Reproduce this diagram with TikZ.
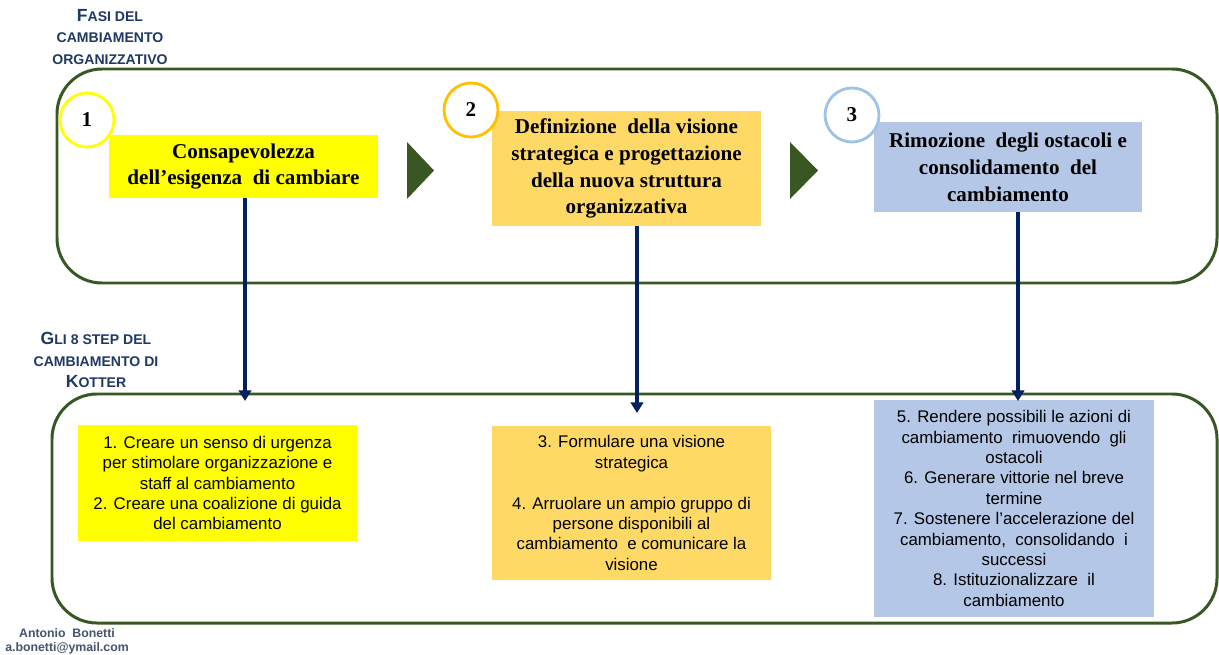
\documentclass[tikz,border=0pt]{standalone}
\usepackage{fontspec}
\setmainfont{Liberation Serif}
\setsansfont{Liberation Sans}
\usetikzlibrary{arrows.meta}

\definecolor{frameGreen}{HTML}{385723}
\definecolor{navyLine}{HTML}{002060}
\definecolor{headBlue}{HTML}{1F3864}
\definecolor{signGray}{HTML}{44546A}
\definecolor{fillYellow}{HTML}{FFFF00}
\definecolor{fillGold}{HTML}{FFD966}
\definecolor{fillBlue}{HTML}{B4C7E7}
\definecolor{ringGold}{HTML}{FFC000}
\definecolor{ringBlue}{HTML}{9DC3E6}

\newcommand{\capsmall}[2]{{\fontsize{10}{11.6}\selectfont #1}{\fontsize{8}{11.6}\selectfont #2}}

\begin{document}
\begin{tikzpicture}[x=0.02cm, y=-0.02cm]

\tikzset{
  frame/.style={draw=frameGreen, line width=1.7pt, rounded corners=0.9cm},
  phase/.style={minimum width=5.38cm, inner sep=0pt, align=center, font=\fontsize{12}{15.3}\selectfont\bfseries},
  kstep/.style={minimum width=5.58cm, inner sep=0pt, align=center, font=\sffamily\fontsize{9.6}{11.6}\selectfont},
  ring/.style={circle, minimum size=1.08cm, inner sep=0pt, line width=1.6pt, fill=white, font=\fontsize{12}{14}\selectfont\bfseries},
  head/.style={align=center, text=headBlue, font=\sffamily\bfseries},
  link/.style={draw=navyLine, line width=2.2pt, -{Triangle[width=7pt,length=6pt]}},
  turn/.style={fill=frameGreen},
}

\useasboundingbox (0,0) rectangle (1219,655);

\draw[frame] (57,69) rectangle (1217,283);
\draw[frame] (52,394) rectangle (1217,623);

\node[head,name=headFasi] at (110,37) {\capsmall{F}{ASI DEL}\\\capsmall{}{CAMBIAMENTO}\\\capsmall{}{ORGANIZZATIVO}};
\node[head,name=headKotter] at (96,360) {\capsmall{G}{LI 8 STEP DEL}\\\capsmall{}{CAMBIAMENTO DI}\\\capsmall{K}{OTTER}};
\node[align=center, text=signGray, font=\sffamily\bfseries\fontsize{7}{8}\selectfont, name=sign] at (67,641) {Antonio\ \ Bonetti\\a.bonetti@ymail.com};

\node[phase, fill=fillYellow, minimum height=1.26cm, name=phase1] at (243.5,166.5) {Consapevolezza\\dell'esigenza\ \ di cambiare};
\node[phase, fill=fillGold, minimum height=2.3cm, name=phase2] at (626.5,168.5) {Definizione\ \ della visione\\strategica e progettazione\\della nuova struttura\\organizzativa};
\node[phase, fill=fillBlue, minimum width=5.36cm, minimum height=1.8cm, name=phase3] at (1008,167) {Rimozione\ \ degli ostacoli e\\consolidamento\ \ del\\cambiamento};

\node[ring, draw=fillYellow, name=ring1] at (87,120) {1};
\node[ring, draw=ringGold, name=ring2] at (471,110) {2};
\node[ring, draw=ringBlue, name=ring3] at (852,115) {3};

\fill[turn] (407,142) -- (434,170.5) -- (407,199) -- cycle;
\fill[turn] (790,142) -- (818,170.5) -- (790,199) -- cycle;

\node[kstep, fill=fillYellow, minimum height=2.32cm, name=stepA] at (217.5,483) {1. Creare un senso di urgenza\\per stimolare organizzazione e\\staff al cambiamento\\2. Creare una coalizione di guida\\del cambiamento};
\node[kstep, fill=fillGold, minimum height=3.08cm, name=stepB] at (631.5,503) {3. Formulare una visione\\strategica\\[11.6pt]4. Arruolare un ampio gruppo di\\persone disponibili al\\cambiamento\ \ e comunicare la\\visione};
\node[kstep, fill=fillBlue, minimum width=5.6cm, minimum height=4.34cm, name=stepC] at (1014,508.5) {5. Rendere possibili le azioni di\\cambiamento\ \ rimuovendo\ \ gli\\ostacoli\\6. Generare vittorie nel breve\\termine\\7. Sostenere l'accelerazione del\\cambiamento,\ \ consolidando\ \ i\\successi\\8. Istituzionalizzare\ \ il\\cambiamento};

\coordinate (tip1) at (245,401);
\coordinate (tip2) at (637,413);
\coordinate (tip3) at (1018,401);

\draw[link] (tip1 |- phase1.south) -- (tip1);
\draw[link] (tip2 |- phase2.south) -- (tip2);
\draw[link] (tip3 |- phase3.south) -- (tip3);

\end{tikzpicture}
\end{document}
